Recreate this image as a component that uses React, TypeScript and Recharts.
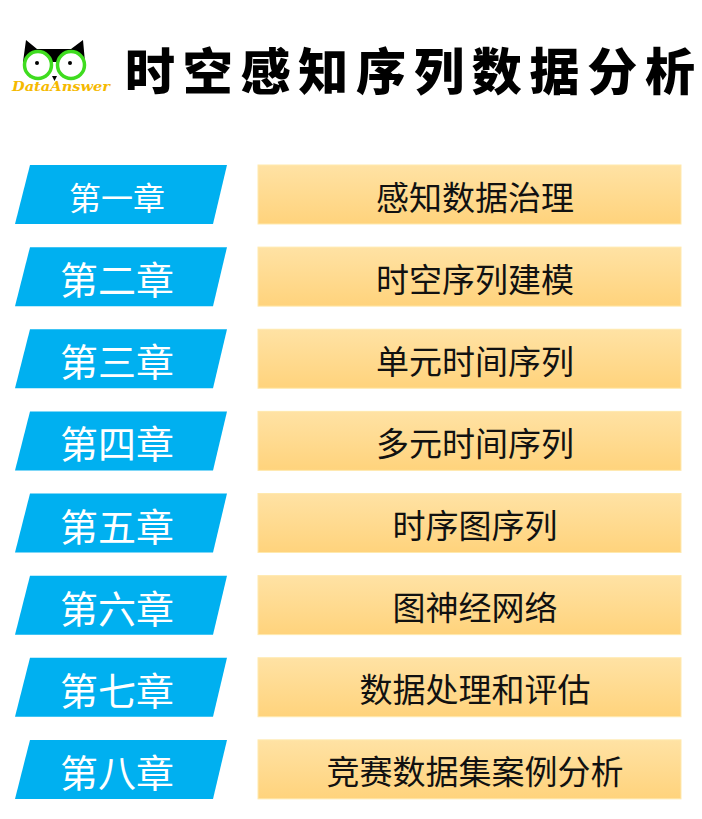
import { Bar, BarChart, LabelList, XAxis, YAxis } from "recharts"

const title = "时空感知序列数据分析"
const brand = "DataAnswer"

const chapters = ["第一章", "第二章", "第三章", "第四章", "第五章", "第六章", "第七章", "第八章"]
const topics = [
  "感知数据治理",
  "时空序列建模",
  "单元时间序列",
  "多元时间序列",
  "时序图序列",
  "图神经网络",
  "数据处理和评估",
  "竞赛数据集案例分析",
]
// share of the row taken by the chapter tag and by the topic box
const chapterShare = [1, 1, 1, 1, 1, 1, 1, 1]
const topicShare = [2, 2, 2, 2, 2, 2, 2, 2]

const rows = chapters.map((chapter, i) => ({
  chapter,
  topic: topics[i],
  chapterShare: chapterShare[i],
  topicShare: topicShare[i],
}))

const BLUE = "#00B0F0"
const FONT = "'Noto Sans CJK SC', 'Noto Sans', sans-serif"

function ChapterTag(props: any) {
  const { x, y, width, height } = props
  const pts = `${x},${y + height} ${x + 15},${y} ${x + width - 10},${y} ${x + width - 24},${y + height}`
  return <polygon points={pts} fill={BLUE} />
}

function TopicBox(props: any) {
  const { x, y, width, height } = props
  return (
    <rect
      x={x + 21}
      y={y}
      width={width - 21}
      height={height}
      fill="url(#topicFill)"
      stroke="#FFE9AE"
      strokeWidth={1}
    />
  )
}

function ChapterText(props: any) {
  const { x, y, height, value, index } = props
  return (
    <text
      x={x + 102}
      y={y + height / 2 + 1}
      textAnchor="middle"
      dominantBaseline="central"
      fill="#fff"
      fontFamily={FONT}
      fontSize={index === 0 ? 32 : 38}
    >
      {value}
    </text>
  )
}

function TopicText(props: any) {
  const { x, y, height, value } = props
  return (
    <text
      x={x + 238}
      y={y + height / 2 + 1}
      textAnchor="middle"
      dominantBaseline="central"
      fill="#111"
      fontFamily={FONT}
      fontSize={33}
    >
      {value}
    </text>
  )
}

function Logo() {
  return (
    <g>
      <path d="M26,40 L37,49 L71,49 L83,40 L85,62 L23,62 Z" fill="#000" />
      <circle cx={38} cy={65} r={13.5} fill="#fff" stroke="#3FDC1F" strokeWidth={3.5} />
      <circle cx={71} cy={65} r={13.5} fill="#fff" stroke="#3FDC1F" strokeWidth={3.5} />
      <circle cx={37} cy={63} r={2} fill="#000" />
      <circle cx={70} cy={63} r={2} fill="#000" />
      <path d="M52,76 L57,76 L54.5,81 Z" fill="#000" />
      <text
        x={12}
        y={91}
        textLength={98}
        lengthAdjust="spacingAndGlyphs"
        fill="#F5B900"
        fontFamily="'DejaVu Serif', serif"
        fontWeight="bold"
        fontStyle="italic"
        fontSize={13}
      >
        {brand}
      </text>
    </g>
  )
}

export default function App() {
  return (
    <div style={{ position: "fixed", top: 0, left: 0, width: 702, height: 819, background: "#fff" }}>
      <BarChart
        width={702}
        height={819}
        data={rows}
        layout="vertical"
        margin={{ top: 153, right: 21, bottom: 9, left: 15 }}
        barSize={59}
      >
        <defs>
          <linearGradient id="topicFill" x1="0" y1="0" x2="0" y2="1">
            <stop offset="0%" stopColor="#FFE2A4" />
            <stop offset="100%" stopColor="#FFD37C" />
          </linearGradient>
        </defs>
        <XAxis type="number" domain={[0, 3]} hide />
        <YAxis type="category" dataKey="chapter" hide />
        <Bar dataKey="chapterShare" stackId="row" shape={<ChapterTag />} isAnimationActive={false}>
          <LabelList dataKey="chapter" content={<ChapterText />} />
        </Bar>
        <Bar dataKey="topicShare" stackId="row" shape={<TopicBox />} isAnimationActive={false}>
          <LabelList dataKey="topic" content={<TopicText />} />
        </Bar>
      </BarChart>
      <svg width={702} height={130} style={{ position: "absolute", top: 0, left: 0 }}>
        <Logo />
        <text
          x={125}
          y={68}
          textLength={570}
          lengthAdjust="spacing"
          dominantBaseline="central"
          fill="#000"
          fontFamily={FONT}
          fontWeight={900}
          fontSize={50}
        >
          {title}
        </text>
      </svg>
    </div>
  )
}
